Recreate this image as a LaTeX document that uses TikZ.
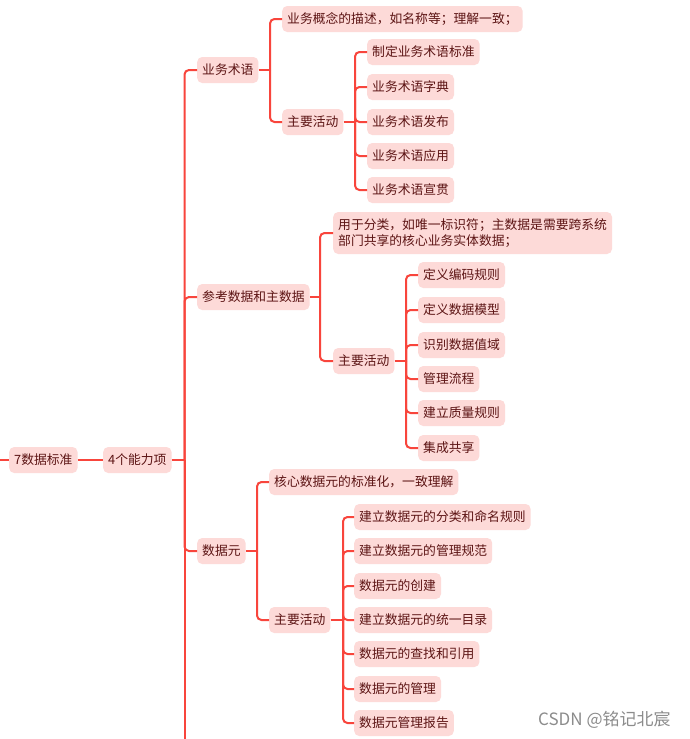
\documentclass[tikz,border=0pt]{standalone}
\usepackage{fontspec}
\setmainfont{Noto Sans CJK SC}
\usepackage{tikz}

\definecolor{linkred}{HTML}{F8453C}
\definecolor{boxpink}{HTML}{FDDAD8}
\definecolor{inkred}{HTML}{5C1414}

\tikzset{
  box/.style={fill=boxpink, text=inkred, rounded corners=5pt, anchor=west,
    inner xsep=5pt, inner ysep=0pt, minimum height=26pt,
    font=\fontsize{12.8}{15.5}\selectfont},
  link/.style={draw=linkred, line width=2pt, rounded corners=4.5pt}
}

\begin{document}
\begin{tikzpicture}[x=1pt,y=-1pt]
  \useasboundingbox (0,0) rectangle (689,739);
  \fill[white] (0,0) rectangle (689,739);
  % spine
  \node[box] (root) at (9,460) {7数据标准};
  \node[box] (ability) at (103,460) {4个能力项};
  \coordinate (edge) at (0,460);
  \coordinate (trunkend) at (184.5,739);
  % level two
  \node[box] (term) at (197,70) {业务术语};
  \node[box] (refdata) at (197,297) {参考数据和主数据};
  \node[box] (element) at (197,551) {数据元};
  % business terms
  \node[box] (termdesc) at (282,19) {业务概念的描述，如名称等；理解一致；};
  \node[box] (termact) at (282,122) {主要活动};
  \node[box] (ta1) at (367,52) {制定业务术语标准};
  \node[box] (ta2) at (367,87) {业务术语字典};
  \node[box] (ta3) at (367,122) {业务术语发布};
  \node[box] (ta4) at (367,156) {业务术语应用};
  \node[box] (ta5) at (367,190) {业务术语宣贯};
  % reference and master data
  \node[box, align=left, minimum height=42pt] (refdesc) at (333,233)
    {用于分类，如唯一标识符；主数据是需要跨系统\\部门共享的核心业务实体数据；};
  \node[box] (refact) at (333,361) {主要活动};
  \node[box] (ra1) at (418,275) {定义编码规则};
  \node[box] (ra2) at (418,310) {定义数据模型};
  \node[box] (ra3) at (418,345) {识别数据值域};
  \node[box] (ra4) at (418,379) {管理流程};
  \node[box] (ra5) at (418,413) {建立质量规则};
  \node[box] (ra6) at (418,448) {集成共享};
  % data elements
  \node[box] (eldesc) at (269,482) {核心数据元的标准化，一致理解};
  \node[box] (elact) at (269,620) {主要活动};
  \node[box] (ea1) at (354,517) {建立数据元的分类和命名规则};
  \node[box] (ea2) at (354,551) {建立数据元的管理规范};
  \node[box] (ea3) at (354,586) {数据元的创建};
  \node[box] (ea4) at (354,620) {建立数据元的统一目录};
  \node[box] (ea5) at (354,654) {数据元的查找和引用};
  \node[box] (ea6) at (354,689) {数据元的管理};
  \node[box] (ea7) at (354,723) {数据元管理报告};

  % connectors
  \draw[link] (edge) -- (root.west);
  \draw[link] (root.east) -- (ability.west);
  \draw[link] (ability.east) -- (184.5,460);
  \draw[link] (trunkend) -- (184.5,460);
  \foreach \kid in {term,refdata,element}
    \draw[link] (184.5,460) |- (\kid.west);
  \draw[link] (term.east) -- (270,70);
  \foreach \kid in {termdesc,termact}
    \draw[link] (270,70) |- (\kid.west);
  \draw[link] (termact.east) -- (355,122);
  \foreach \kid in {ta1,ta2,ta3,ta4,ta5}
    \draw[link] (355,122) |- (\kid.west);
  \draw[link] (refdata.east) -- (320,297);
  \foreach \kid in {refdesc,refact}
    \draw[link] (320,297) |- (\kid.west);
  \draw[link] (refact.east) -- (406,361);
  \foreach \kid in {ra1,ra2,ra3,ra4,ra5,ra6}
    \draw[link] (406,361) |- (\kid.west);
  \draw[link] (element.east) -- (257,551);
  \foreach \kid in {eldesc,elact}
    \draw[link] (257,551) |- (\kid.west);
  \draw[link] (elact.east) -- (343,620);
  \foreach \kid in {ea1,ea2,ea3,ea4,ea5,ea6,ea7}
    \draw[link] (343,620) |- (\kid.west);

  \node[anchor=west, text=black!45, inner sep=0pt, font=\fontsize{17}{19}\selectfont] (mark) at (538,720) {CSDN @铭记北宸};
\end{tikzpicture}
\end{document}
